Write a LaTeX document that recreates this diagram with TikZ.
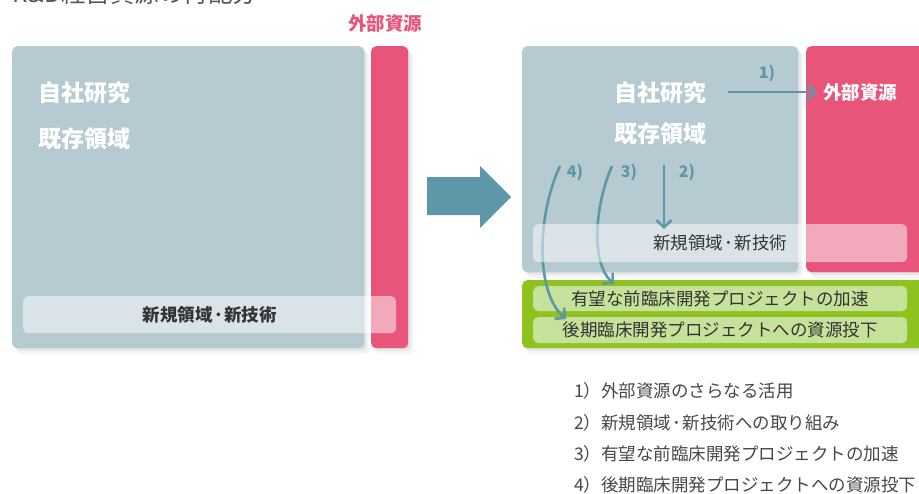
\documentclass[tikz,border=0pt]{standalone}
\usepackage{fontspec}
\setmainfont{Noto Sans CJK JP}
\usetikzlibrary{arrows.meta,shadows}
\definecolor{boxgray}{HTML}{B6CAD2}
\definecolor{pinkc}{HTML}{E8547A}
\definecolor{arrc}{HTML}{5E98A8}
\definecolor{greenc}{HTML}{8DC21F}
\definecolor{lgreen}{HTML}{C6E29A}
\definecolor{txtc}{HTML}{333333}
\definecolor{listc}{HTML}{474747}
\definecolor{ttlc}{HTML}{555555}
\newcommand{\tightdot}{\hspace{1.2pt}･\hspace{1.2pt}}
\begin{document}
\begin{tikzpicture}[x=1pt,y=-1pt,
  softsh/.style={
    general shadow={fill=black,opacity=.05,shadow xshift=1pt,shadow yshift=-1pt},
    general shadow={fill=black,opacity=.05,shadow xshift=3pt,shadow yshift=-3pt},
    general shadow={fill=black,opacity=.04,shadow xshift=5pt,shadow yshift=-6pt}},
  panel/.style={rounded corners=5pt, inner sep=0pt, anchor=north west, draw=none},
  graybox/.style={panel, softsh, fill=boxgray},
  pinkbox/.style={panel, softsh, fill=pinkc},
  greenbox/.style={panel, softsh, fill=greenc},
  lgbox/.style={panel, fill=lgreen, text=txtc, font=\fontsize{17.5}{19}\selectfont},
  glass/.style={panel, fill=white, fill opacity=.5, text opacity=1},
  wlabel/.style={inner sep=0pt, text=white, font=\fontsize{23}{25}\selectfont\bfseries},
  numlabel/.style={inner sep=0pt, text=arrc, font=\fontsize{16}{18}\selectfont\bfseries},
  listitem/.style={inner sep=0pt, anchor=west, text=listc, font=\fontsize{17.5}{19}\selectfont},
  conn/.style={draw=arrc, line width=2.6pt, -{Straight Barb[length=7pt,width=15pt,line width=2.6pt]}},
  bigarrow/.style={fill=arrc}
]
\useasboundingbox (0,0) rectangle (919,493);
\clip (0,0) rectangle (919,493);

% title (cut at the top edge, as in the reference)
\node[anchor=base west, inner sep=0pt, text=ttlc, font=\fontsize{24.5}{26}\selectfont] (title) at (12,2) {R\&D経営資源の再配分};

% ---------- left panel ----------
\node[graybox, minimum width=352pt, minimum height=302pt] (Lgray) at (12,46) {};
\node[pinkbox, minimum width=37pt, minimum height=302pt] (Lpink) at (371,46) {};
\node[inner sep=0pt, text=pinkc, font=\fontsize{18.5}{20}\selectfont\bfseries] (Lgaibu) at (385,23) {外部資源};
\node[wlabel] (Ljisha) at (84,93) {自社研究};
\node[wlabel] (Lkizon) at (84,139) {既存領域};
\node[glass, minimum width=373pt, minimum height=37pt, text=txtc, font=\fontsize{17.5}{19}\selectfont\bfseries] (Lnew) at (23,296) {新規領域\tightdot 新技術};

% ---------- big arrow ----------
\fill[bigarrow] (427,177) -- (480,177) -- (480,166) -- (511,197) -- (480,228) -- (480,215) -- (427,215) -- cycle;

% ---------- right panel ----------
\node[graybox, minimum width=276pt, minimum height=226pt] (Rgray) at (522,46) {};
\node[pinkbox, minimum width=130pt, minimum height=226pt] (Rpink) at (806,46) {};
\node[greenbox, minimum width=410pt, minimum height=68pt] (Rgreen) at (522,280) {};
\node[lgbox, minimum width=374pt, minimum height=25pt] (G1) at (533,286) {有望な前臨床開発プロジェクトの加速};
\node[lgbox, minimum width=374pt, minimum height=26pt] (G2) at (533,317) {後期臨床開発プロジェクトへの資源投下};

% curved arrows 3) and 4) (pass beneath the translucent band)
\coordinate (s3) at (612,166);
\coordinate (s4) at (560,166);
\coordinate (e3) at (614,284);
\coordinate (e4) at (566,319);
\draw[conn] (s3) .. controls (595,205) and (590,262) .. (e3);
\draw[conn] (s4) .. controls (537,215) and (535,292) .. (e4);

\node[glass, minimum width=374pt, minimum height=38pt, text=txtc, font=\fontsize{17.5}{19}\selectfont] (Rnew) at (533,224) {新規領域\tightdot 新技術};

\node[wlabel] (Rjisha) at (660,93) {自社研究};
\node[wlabel] (Rkizon) at (660,134) {既存領域};
\node[inner sep=0pt, text=white, font=\fontsize{18.5}{20}\selectfont\bfseries] (Rgaibu) at (860,92) {外部資源};

% arrow 1)
\coordinate (s1) at (728,92);
\draw[conn] (s1) -- ([xshift=-6pt]Rgaibu.west);
\node[numlabel] (n1) at (767,73) {1)};

% arrow 2)
\coordinate (s2) at (664,165);
\draw[conn] (s2) -- ([yshift=-5pt]Rnew.north -| s2);
\node[numlabel] (n2) at (687,172) {2)};
\node[numlabel] (n3) at (629,172) {3)};
\node[numlabel] (n4) at (575,172) {4)};

% ---------- list ----------
\node[listitem] (l1) at (574,391) {1）外部資源のさらなる活用};
\node[listitem] (l2) at (574,422.5) {2）新規領域\tightdot 新技術への取り組み};
\node[listitem] (l3) at (574,454) {3）有望な前臨床開発プロジェクトの加速};
\node[listitem] (l4) at (574,485) {4）後期臨床開発プロジェクトへの資源投下};
\end{tikzpicture}
\end{document}
